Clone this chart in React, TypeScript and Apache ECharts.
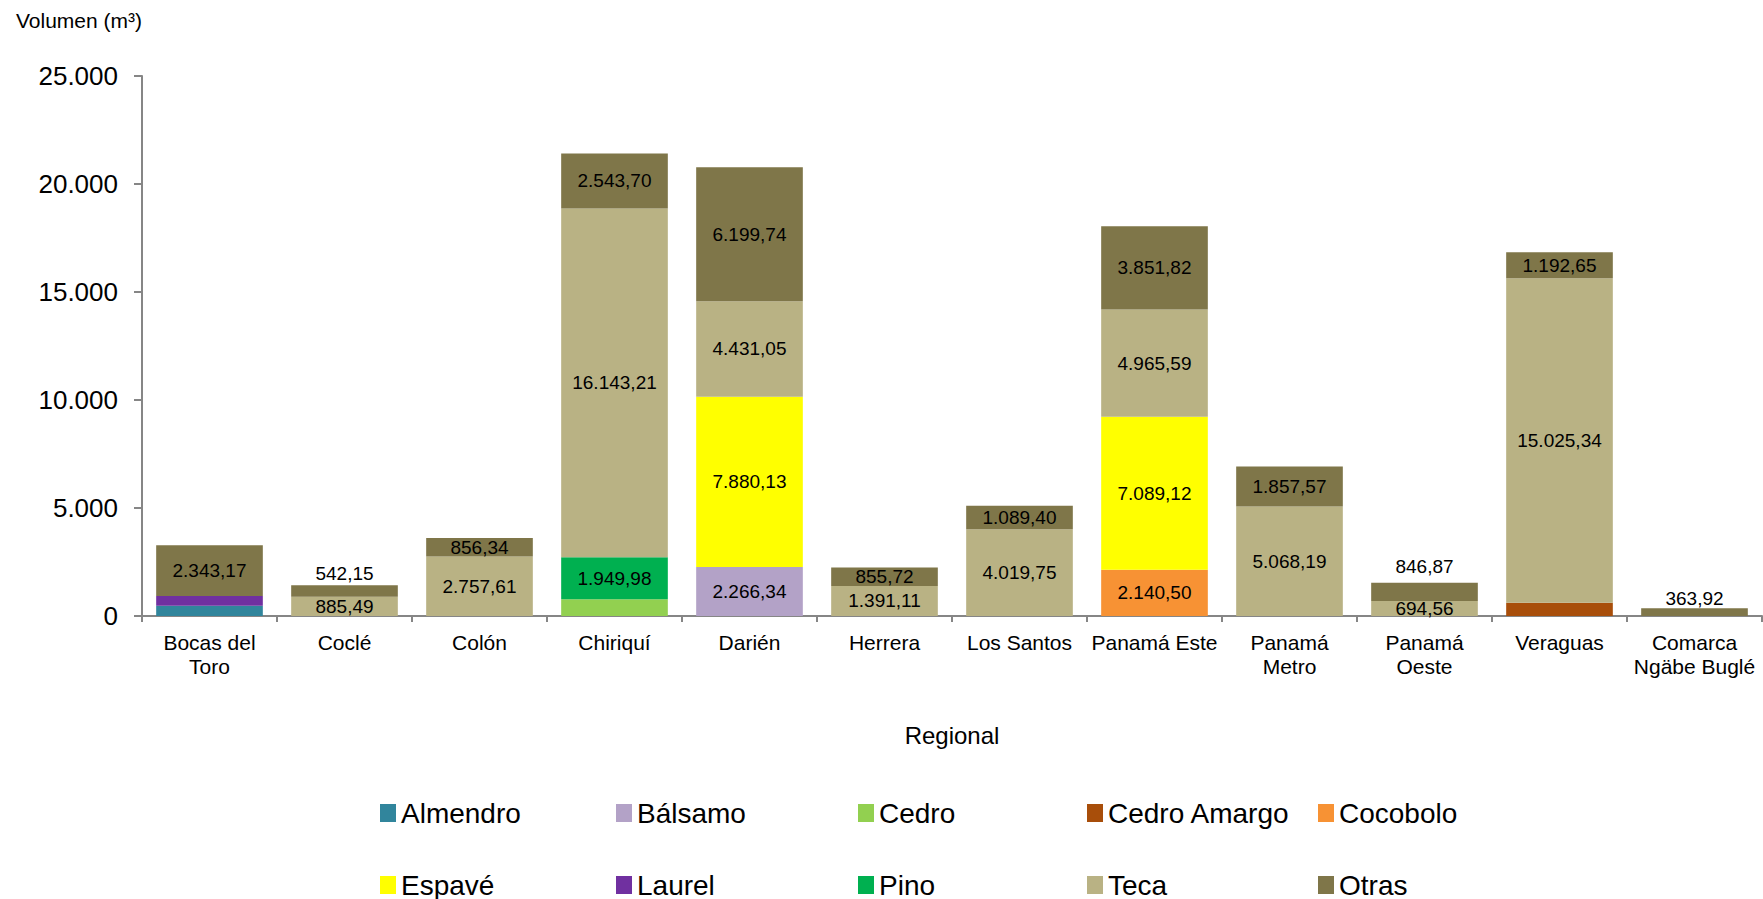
import React, { useEffect, useRef } from "react";
import * as echarts from "echarts";

const categories = [
  "Bocas del\nToro",
  "Coclé",
  "Colón",
  "Chiriquí",
  "Darién",
  "Herrera",
  "Los Santos",
  "Panamá Este",
  "Panamá\nMetro",
  "Panamá\nOeste",
  "Veraguas",
  "Comarca\nNgäbe Buglé",
];

const almendro = [480, null, null, null, null, null, null, null, null, null, null, null];
const balsamo = [null, null, null, null, 2266.34, null, null, null, null, null, null, null];
const cedro = [null, null, null, 775, null, null, null, null, null, null, null, null];
const cedroAmargo = [null, null, null, null, null, null, null, null, null, null, 617, null];
const cocobolo = [null, null, null, null, null, null, null, 2140.5, null, null, null, null];
const espave = [null, null, null, null, 7880.13, null, null, 7089.12, null, null, null, null];
const laurel = [450, null, null, null, null, null, null, null, null, null, null, null];
const pino = [null, null, null, 1949.98, null, null, null, null, null, null, null, null];
const teca = [null, 885.49, 2757.61, 16143.21, 4431.05, 1391.11, 4019.75, 4965.59, 5068.19, 694.56, 15025.34, null];
const otras = [2343.17, 542.15, 856.34, 2543.7, 6199.74, 855.72, 1089.4, 3851.82, 1857.57, 846.87, 1192.65, 363.92];

const yTicks = [0, 5000, 10000, 15000, 20000, 25000];

const FONT = "'Liberation Sans', Arial, sans-serif";

function fmtEs(v: number, decimals: number): string {
  const fixed = Math.abs(v).toFixed(decimals);
  const [intPart, decPart] = fixed.split(".");
  const withSep = intPart.replace(/\B(?=(\d{3})+(?!\d))/g, ".");
  return (v < 0 ? "-" : "") + withSep + (decPart ? "," + decPart : "");
}

export default function App() {
  const ref = useRef<HTMLDivElement>(null);

  useEffect(() => {
    document.body.style.margin = "0";
    if (!ref.current) return;
    const chart = echarts.init(ref.current, undefined, { renderer: "svg" });

    const labelStyle = {
      show: true,
      position: "inside",
      color: "#000",
      fontSize: 19,
      fontFamily: FONT,
      formatter: (p: any) => (p.value == null ? "" : fmtEs(p.value, 2)),
    };

    const aboveIdx: Record<number, number> = { 1: 2, 9: 7, 11: 0 };

    const mk = (name: string, data: (number | null)[], color: string, withLabel: boolean, otrasAbove = false) => ({
      name,
      type: "bar",
      stack: "total",
      barCategoryGap: "21%",
      itemStyle: { color },
      label: withLabel ? labelStyle : { show: false },
      data: data.map((v, i) => {
        if (otrasAbove && i in aboveIdx) {
          return {
            value: v,
            label: { ...labelStyle, position: "top", distance: aboveIdx[i] },
          };
        }
        return v;
      }),
    });

    const seriesDefs = [
      mk("Almendro", almendro, "#31859C", false),
      mk("Bálsamo", balsamo, "#B3A2C7", true),
      mk("Cedro", cedro, "#92D050", false),
      mk("Cedro Amargo", cedroAmargo, "#A84E0A", false),
      mk("Cocobolo", cocobolo, "#F79234", true),
      mk("Espavé", espave, "#FFFF00", true),
      mk("Laurel", laurel, "#7030A0", false),
      mk("Pino", pino, "#00B050", true),
      mk("Teca", teca, "#B9B284", true),
      mk("Otras", otras, "#7F7649", true, true),
    ];

    const legendCols = [380, 616, 858, 1087, 1318];
    const legendRows = [799, 871];
    const legends = seriesDefs.map((s, i) => ({
      data: [s.name],
      left: legendCols[i % 5],
      top: legendRows[Math.floor(i / 5)],
      padding: 0,
      icon: "rect",
      itemWidth: 16,
      itemHeight: 18,
      selectedMode: false,
      textStyle: { fontSize: 28, fontFamily: FONT, color: "#000", lineHeight: 26 },
    }));

    chart.setOption({
      animation: false,
      textStyle: { fontFamily: FONT },
      title: {
        text: "Volumen (m³)",
        left: 16,
        top: 10,
        padding: 0,
        textStyle: { fontSize: 21, fontWeight: "normal", color: "#000", fontFamily: FONT },
      },
      legend: legends,
      grid: { left: 142, right: 1, top: 76, bottom: 283, containLabel: false },
      xAxis: {
        type: "category",
        data: categories,
        name: "Regional",
        nameLocation: "middle",
        nameGap: 107,
        nameTextStyle: { fontSize: 24, color: "#000", fontFamily: FONT },
        axisLine: { lineStyle: { color: "#868686", width: 2 } },
        axisTick: { show: true, length: 6, lineStyle: { color: "#868686", width: 2 } },
        axisLabel: {
          interval: 0,
          fontSize: 21,
          lineHeight: 24,
          color: "#000",
          margin: 14,
          fontFamily: FONT,
        },
      },
      yAxis: {
        type: "value",
        min: yTicks[0],
        max: yTicks[yTicks.length - 1],
        interval: yTicks[1] - yTicks[0],
        splitLine: { show: false },
        axisLine: { show: true, lineStyle: { color: "#868686", width: 2 } },
        axisTick: { show: true, length: 8, lineStyle: { color: "#868686", width: 2 } },
        axisLabel: {
          fontSize: 26,
          color: "#000",
          margin: 24,
          fontFamily: FONT,
          formatter: (v: number) => fmtEs(v, 0),
        },
      },
      series: seriesDefs,
    });

    return () => chart.dispose();
  }, []);

  return (
    <div
      ref={ref}
      style={{ position: "absolute", left: 0, top: 0, width: 1763, height: 899 }}
    />
  );
}
